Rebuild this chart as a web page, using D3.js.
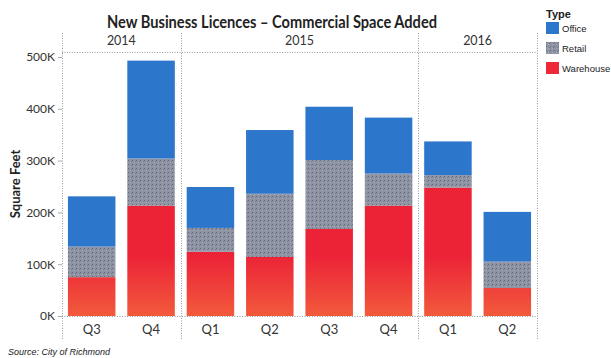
<!DOCTYPE html>
<html>
<head>
<meta charset="utf-8">
<script src="https://cdn.jsdelivr.net/npm/d3@7"></script>
<style>
  html, body { margin: 0; padding: 0; background: #fff; }
  svg { display: block; }
</style>
</head>
<body>
<svg id="chart" width="611" height="358"></svg>
<script>
// Commercial space added by new business licences, square feet per quarter
const years = ["2014", "2015", "2016"];
const quarters = ["Q3", "Q4", "Q1", "Q2", "Q3", "Q4", "Q1", "Q2"];
const quarterYears = ["2014", "2014", "2015", "2015", "2015", "2015", "2016", "2016"];
const warehouse = [75000, 213000, 124000, 114000, 168000, 213000, 248000, 54000];
const retail = [59000, 91000, 46000, 122000, 133000, 62000, 24000, 51000];
const office = [97000, 189000, 79000, 123000, 103000, 108000, 65000, 96000];
const types = ["Warehouse", "Retail", "Office"];
const legendTypes = ["Office", "Retail", "Warehouse"];
const yTicks = [0, 100000, 200000, 300000, 400000, 500000];

const colors = { Office: "#2c76cc", Retail: "url(#retailFill)", Warehouse: "url(#warehouseFill)" };
const legendColors = { Office: "#2c76cc", Retail: "url(#retailFill)", Warehouse: "#ee2838" };

const rows = quarters.map((q, i) => ({
  key: quarterYears[i] + "-" + q, quarter: q, year: quarterYears[i],
  Warehouse: warehouse[i], Retail: retail[i], Office: office[i]
}));

const svg = d3.select("#chart");
const plotLeft = 62, plotRight = 537, plotTop = 52, plotBottom = 316;

const x = d3.scaleBand().domain(rows.map(d => d.key)).range([plotLeft, plotRight])
  .paddingInner(0.2).paddingOuter(0.1);
const y = d3.scaleLinear().domain([0, 500000]).range([plotBottom, 57]);

// fills
const defs = svg.append("defs");
const pat = defs.append("pattern").attr("id", "retailFill").attr("patternUnits", "userSpaceOnUse")
  .attr("width", 4).attr("height", 4);
pat.append("rect").attr("width", 4).attr("height", 4).attr("fill", "#8e94a4");
pat.append("rect").attr("x", 0).attr("y", 0).attr("width", 1).attr("height", 1).attr("fill", "#646a7a");
pat.append("rect").attr("x", 2).attr("y", 2).attr("width", 1).attr("height", 1).attr("fill", "#a8adba");
pat.append("rect").attr("x", 3).attr("y", 1).attr("width", 1).attr("height", 1).attr("fill", "#737a8a");

const grad = defs.append("linearGradient").attr("id", "warehouseFill")
  .attr("gradientUnits", "userSpaceOnUse").attr("x1", 0).attr("x2", 0)
  .attr("y1", plotBottom - 60).attr("y2", plotBottom);
grad.append("stop").attr("offset", "0%").attr("stop-color", "#ec2337");
grad.append("stop").attr("offset", "100%").attr("stop-color", "#f25a3c");

// title
svg.append("text").attr("x", 272).attr("y", 28).attr("text-anchor", "middle")
  .attr("font-family", "Lato, 'Open Sans', sans-serif").attr("font-weight", "bold")
  .attr("font-size", 16.5).attr("fill", "#222")
  .attr("textLength", 330).attr("lengthAdjust", "spacingAndGlyphs")
  .text("New Business Licences \u2013 Commercial Space Added");

// frame: dotted lines
const dot = { stroke: "#9a9a9a", "stroke-width": 1, "stroke-dasharray": "1,1.5" };
function dotted(sel) { Object.entries(dot).forEach(([k, v]) => sel.attr(k, v)); return sel; }

dotted(svg.append("line").attr("x1", plotLeft).attr("x2", plotRight).attr("y1", plotTop + 0.5).attr("y2", plotTop + 0.5));
dotted(svg.append("line").attr("x1", plotLeft).attr("x2", plotRight).attr("y1", plotBottom + 0.5).attr("y2", plotBottom + 0.5));

// year groups
const yearBounds = years.map(yr => {
  const ks = rows.filter(d => d.year === yr).map(d => d.key);
  const step = x.step();
  const x0 = x(ks[0]) - x.paddingOuter() * step;
  const x1 = x(ks[ks.length - 1]) + x.bandwidth() + x.paddingOuter() * step;
  return { yr, x0, x1 };
});
const sepXs = [plotLeft].concat(yearBounds.map(b => b.x1));
sepXs.forEach(sx => {
  dotted(svg.append("line").attr("x1", Math.round(sx) + 0.5).attr("x2", Math.round(sx) + 0.5)
    .attr("y1", 33).attr("y2", 340));
});
svg.append("g").selectAll("text").data(yearBounds).join("text")
  .attr("x", d => (d.x0 + d.x1) / 2).attr("y", 45).attr("text-anchor", "middle")
  .attr("font-family", "Lato, sans-serif").attr("font-size", 12.5).attr("fill", "#333")
  .text(d => d.yr);

// bars
const stack = d3.stack().keys(types)(rows);
svg.append("g").selectAll("g").data(stack).join("g")
  .attr("fill", s => colors[s.key])
  .selectAll("rect").data(s => s).join("rect")
  .attr("x", d => x(d.data.key))
  .attr("width", x.bandwidth())
  .attr("y", d => y(d[1]))
  .attr("height", d => y(d[0]) - y(d[1]));

// y axis
const yAxis = svg.append("g").attr("transform", `translate(${plotLeft},0)`)
  .call(d3.axisLeft(y).tickValues(yTicks).tickSize(4).tickPadding(3)
    .tickFormat(d => (d / 1000) + "K"));
yAxis.select(".domain").remove();
yAxis.selectAll(".tick line").attr("stroke", "#aaa");
yAxis.selectAll(".tick text").attr("font-family", "Lato, sans-serif").attr("font-size", 12).attr("fill", "#333");

svg.append("text").attr("transform", "translate(20,184) rotate(-90)").attr("text-anchor", "middle")
  .attr("font-family", "Lato, sans-serif").attr("font-weight", "bold").attr("font-size", 13)
  .attr("fill", "#222").text("Square Feet");

// x axis
const xAxis = svg.append("g").attr("transform", `translate(0,${plotBottom})`)
  .call(d3.axisBottom(x).tickSize(0).tickPadding(9).tickFormat((k, i) => quarters[i]));
xAxis.select(".domain").remove();
xAxis.selectAll(".tick text").attr("font-family", "Lato, sans-serif").attr("font-size", 13).attr("fill", "#333");

// legend
const lg = svg.append("g").attr("transform", "translate(546,0)");
lg.append("text").attr("x", 0).attr("y", 18).attr("font-family", "'Liberation Sans', Arial, sans-serif")
  .attr("font-weight", "bold").attr("font-size", 11).attr("fill", "#222").text("Type");
const items = lg.selectAll("g.item").data(legendTypes).join("g")
  .attr("transform", (d, i) => `translate(0,${22 + i * 20})`);
items.append("rect").attr("width", 13).attr("height", 12).attr("fill", d => legendColors[d]);
items.append("text").attr("x", 16).attr("y", 10).attr("font-family", "'Liberation Sans', Arial, sans-serif")
  .attr("font-size", 9.5).attr("fill", "#222").text(d => d);

// source note
svg.append("text").attr("x", 8).attr("y", 355).attr("font-family", "'Liberation Sans', Arial, sans-serif")
  .attr("font-style", "italic").attr("font-size", 9).attr("fill", "#222").text("Source: City of Richmond");
</script>
</body>
</html>
